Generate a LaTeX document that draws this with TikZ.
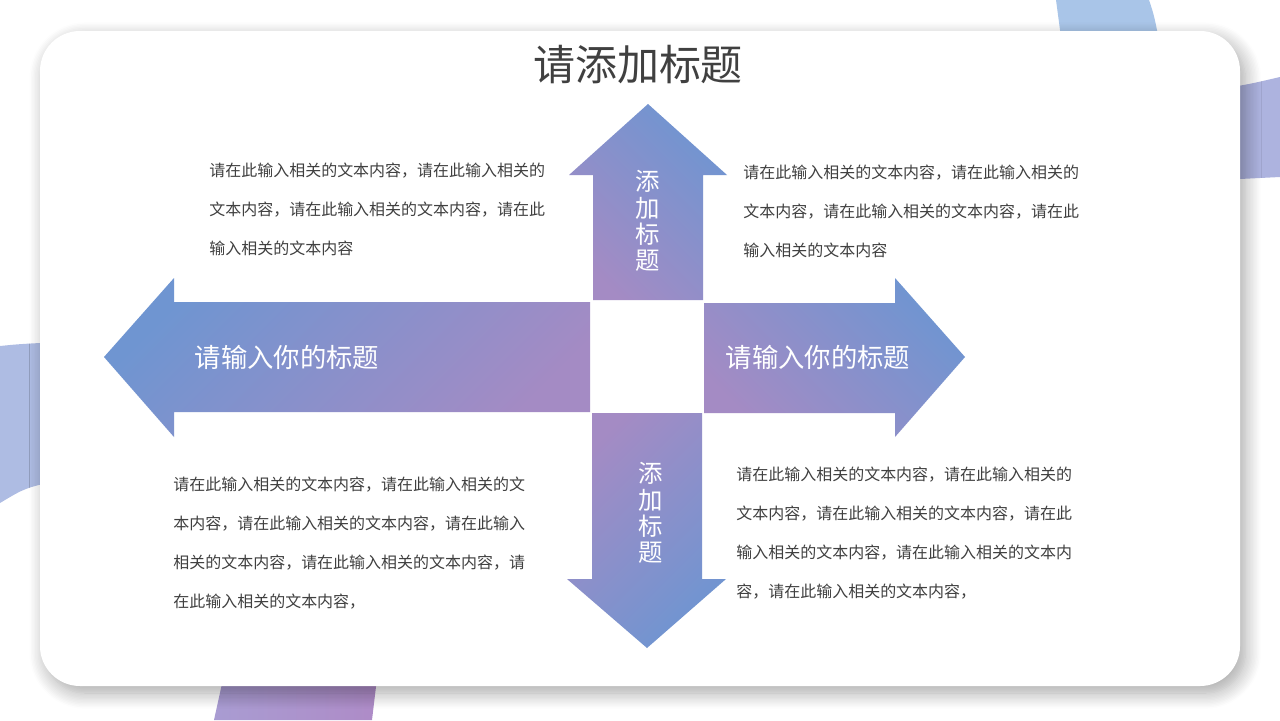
\documentclass[tikz,border=0pt]{standalone}
\usepackage{fontspec}
\newfontfamily\cjk{Noto Sans CJK SC}
\usetikzlibrary{shadows.blur}
\definecolor{arrowblue}{HTML}{6F95D1}
\definecolor{arrowpurple}{HTML}{A48BC4}
\definecolor{textgray}{HTML}{404040}
\definecolor{bandblue}{HTML}{A9C5E8}
\definecolor{bandside}{HTML}{ADB3DF}
\definecolor{bandleft}{HTML}{AEBCE3}
\definecolor{bandlow}{HTML}{A99CD2}
\definecolor{bandlowr}{HTML}{AE8BC7}

\begin{document}
\begin{tikzpicture}[x=0.02cm, y=-0.02cm,
  bodytext/.style={anchor=north west, inner sep=0pt, align=left, text=textgray, font=\cjk\fontsize{9.1}{22.2}\selectfont},
  arrowtext/.style={inner sep=0pt, text=white, font=\cjk\fontsize{15}{18}\selectfont},
  vtext/.style={inner sep=0pt, align=center, text=white, font=\cjk\fontsize{13.9}{15}\selectfont}]
\useasboundingbox (0,0) rectangle (1280,720);
% bands behind the card
\fill[bandblue] (1056,0) -- (1149,0) .. controls (1154,15) .. (1160,45) -- (1062,45) -- cycle;
\fill[bandside] (1220,89) .. controls (1250,84) .. (1280,77) -- (1280,177) .. controls (1250,178) .. (1220,180) -- cycle;
\fill[bandleft] (0,346) .. controls (20,344) .. (60,342) -- (60,480) .. controls (25,488) .. (0,503) -- cycle;
\shade[left color=bandlow, right color=bandlowr] (225,670) -- (378,670) -- (372,720) -- (214,720) -- cycle;
% card
\fill[white, rounded corners=0.8cm, blur shadow={shadow xshift=3pt, shadow yshift=-4pt, shadow blur radius=9pt, shadow blur steps=12, shadow opacity=35}] (40,31) rectangle (1240,686);
\node[inner sep=0pt, text=textgray, font=\cjk\fontsize{23.9}{28}\selectfont] (title) at (638,65) {请添加标题};
% arrows
\shade[top color=arrowblue, bottom color=arrowpurple, shading angle=45] (104,357) -- (174,278) -- (174,302) -- (590,302) -- (590,412) -- (174,412) -- (174,437) -- cycle;
\shade[top color=arrowblue, bottom color=arrowpurple, shading angle=-45] (648,104) -- (727,175) -- (703,175) -- (703,300) -- (593,300) -- (593,175) -- (569,175) -- cycle;
\shade[top color=arrowblue, bottom color=arrowpurple, shading angle=-45] (965,357) -- (895,278) -- (895,303) -- (704,303) -- (704,413) -- (895,413) -- (895,437) -- cycle;
\shade[top color=arrowblue, bottom color=arrowpurple, shading angle=-135] (647,648) -- (726,579) -- (702,579) -- (702,413) -- (592,413) -- (592,579) -- (567,579) -- cycle;
\node[arrowtext] (lefttitle) at (287,357) {请输入你的标题};
\node[arrowtext] (righttitle) at (818,357) {请输入你的标题};
\node[vtext] (uptitle) at (648,221) {添\\加\\标\\题};
\node[vtext] (downtitle) at (651,513) {添\\加\\标\\题};
% texts
\node[bodytext] (textTL) at (209,163) {请在此输入相关的文本内容，请在此输入相关的\\文本内容，请在此输入相关的文本内容，请在此\\输入相关的文本内容};
\node[bodytext] (textTR) at (743,165) {请在此输入相关的文本内容，请在此输入相关的\\文本内容，请在此输入相关的文本内容，请在此\\输入相关的文本内容};
\node[bodytext] (textBL) at (173,477) {请在此输入相关的文本内容，请在此输入相关的文\\本内容，请在此输入相关的文本内容，请在此输入\\相关的文本内容，请在此输入相关的文本内容，请\\在此输入相关的文本内容，};
\node[bodytext] (textBR) at (736,467) {请在此输入相关的文本内容，请在此输入相关的\\文本内容，请在此输入相关的文本内容，请在此\\输入相关的文本内容，请在此输入相关的文本内\\容，请在此输入相关的文本内容，};
\end{tikzpicture}
\end{document}
